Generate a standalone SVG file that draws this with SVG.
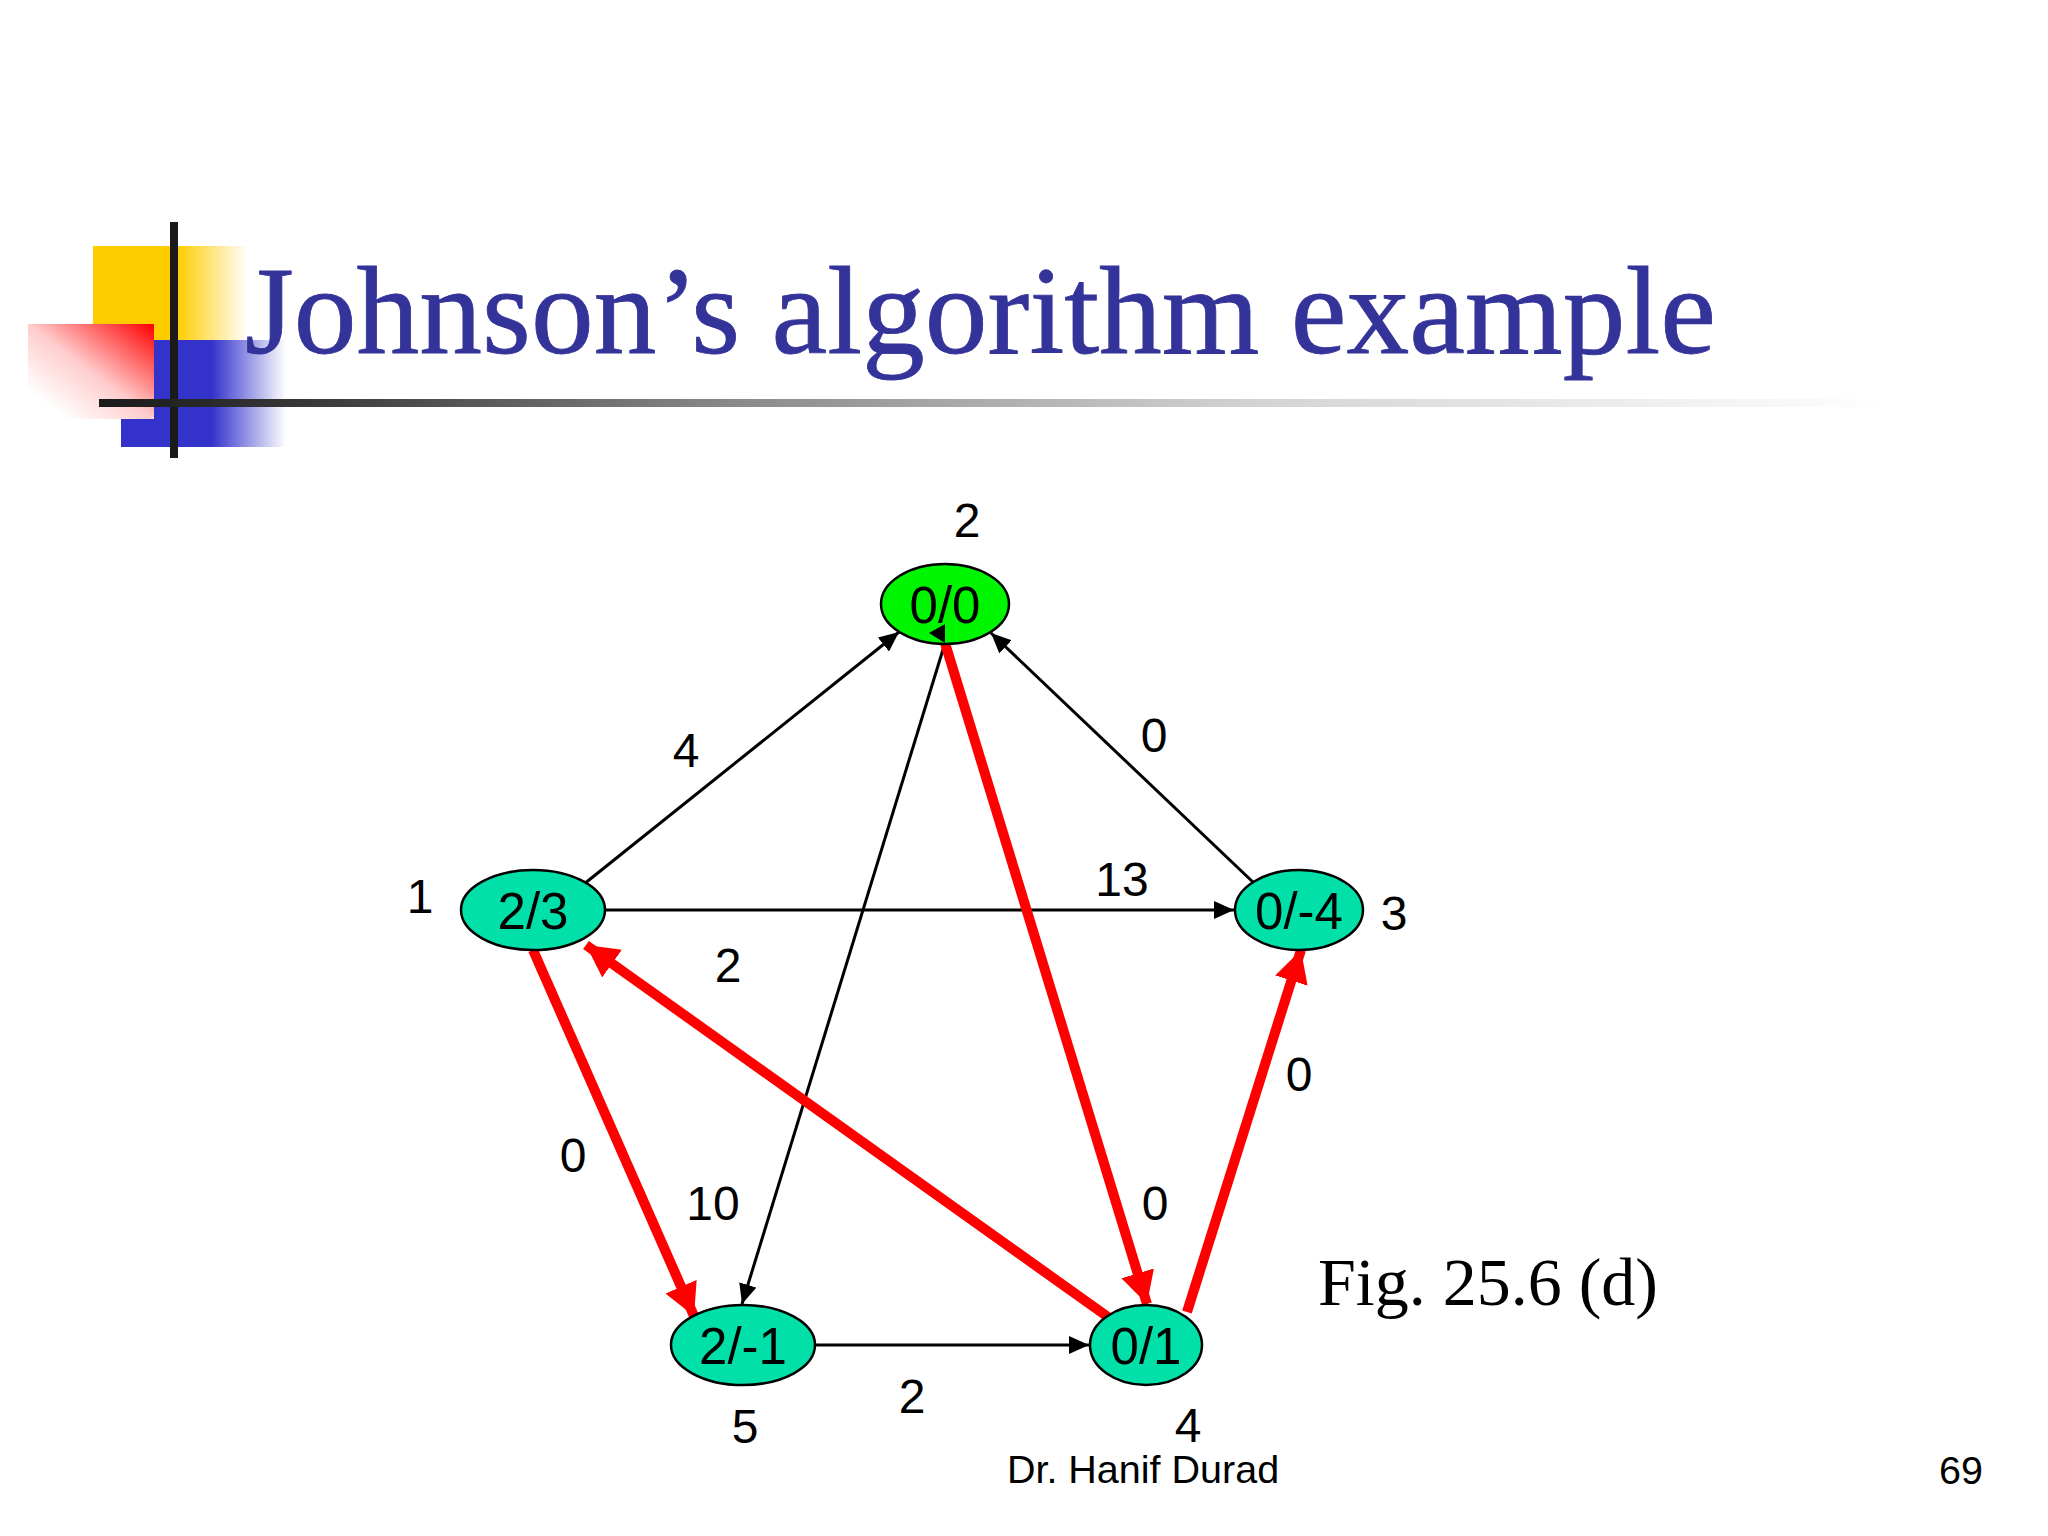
<svg xmlns="http://www.w3.org/2000/svg" width="2048" height="1536" viewBox="0 0 2048 1536">
<style>
.l{font-family:"Liberation Sans",Arial,sans-serif;font-size:48px;fill:#000;text-anchor:middle}
.t{font-size:51px}
.n{fill:#00e0a8;stroke:#000;stroke-width:2.5}
.b{stroke:#000;stroke-width:3;fill:none;marker-end:url(#ab)}
.r{stroke:#f00;stroke-width:10;fill:none;marker-end:url(#ar)}
</style>
<defs>
<linearGradient id="gy" x1="0" x2="1" y1="0" y2="0"><stop offset="0" stop-color="#fc0"/><stop offset="0.54" stop-color="#fc0"/><stop offset="1" stop-color="#fc0" stop-opacity="0"/></linearGradient>
<linearGradient id="gb" x1="0" x2="1" y1="0" y2="0"><stop offset="0" stop-color="#33c"/><stop offset="0.55" stop-color="#33c"/><stop offset="1" stop-color="#33c" stop-opacity="0"/></linearGradient>
<linearGradient id="gr" x1="1" y1="0" x2="0" y2="1"><stop offset="0" stop-color="#f00"/><stop offset="0.5" stop-color="#fcc"/><stop offset="0.85" stop-color="#fff"/></linearGradient>
<linearGradient id="gk" x1="0" x2="1" y1="0" y2="0"><stop offset="0" stop-color="#1a1a1a"/><stop offset="0.1" stop-color="#333"/><stop offset="0.35" stop-color="#888"/><stop offset="0.65" stop-color="#d4d4d4"/><stop offset="1" stop-color="#fff"/></linearGradient>
<marker id="ab" markerUnits="userSpaceOnUse" markerWidth="20" markerHeight="18" refX="20" refY="9" orient="auto"><path d="M0 0L20 9L0 18z" fill="#000"/></marker>
<marker id="ar" markerUnits="userSpaceOnUse" markerWidth="32" markerHeight="34" refX="32" refY="17" orient="auto"><path d="M0 0L32 17L0 34z" fill="#f00"/></marker>
</defs>
<g id="decoration">
<rect x="93" y="246" width="155" height="94" fill="url(#gy)"/>
<rect x="121" y="340" width="165" height="107" fill="url(#gb)"/>
<rect x="28" y="324" width="126" height="95" fill="url(#gr)"/>
<rect x="170" y="222" width="8" height="236" fill="#1a1a1a"/>
<rect x="99" y="399" width="1790" height="8" fill="url(#gk)"/>
</g>
<text id="title" x="245" y="353" font-family="Liberation Serif,Times New Roman,serif" font-size="125.5" fill="#333399" stroke="#333399" stroke-width="0.8">Johnson’s algorithm example</text>
<g id="connectors">
<path class="b" d="M584 884L899 632"/>
<path class="b" d="M1255 884L991 633"/>
<path class="b" d="M606 910H1234"/>
<path class="b" d="M945 643L742 1304"/>
<path class="b" d="M816 1345H1089"/>
<path class="r" d="M533 950L694 1316"/>
<path class="r" d="M1108 1317L586 945"/>
<path class="r" d="M945 643L1147 1304"/>
<path class="r" d="M1187 1312L1301 950"/>
</g>
<g id="n1"><ellipse class="n" cx="533" cy="910" rx="72" ry="40"/><text class="l t" x="533" y="929">2/3</text></g>
<g id="n2"><ellipse class="n" cx="945" cy="604" rx="64" ry="40" style="fill:#00f500"/><text class="l t" x="945" y="623">0/0</text><path d="M929 633L945 624V643z" fill="#000"/></g>
<g id="n3"><ellipse class="n" cx="1299" cy="910" rx="64" ry="40"/><text class="l t" x="1299" y="929">0/-4</text></g>
<g id="n4"><ellipse class="n" cx="1146" cy="1345" rx="56" ry="40"/><text class="l t" x="1146" y="1364">0/1</text></g>
<g id="n5"><ellipse class="n" cx="743" cy="1345" rx="72" ry="40"/><text class="l t" x="743" y="1364">2/-1</text></g>
<g id="labels">
<text class="l" x="420" y="913">1</text>
<text class="l" x="967" y="537">2</text>
<text class="l" x="1394" y="930">3</text>
<text class="l" x="1188" y="1442">4</text>
<text class="l" x="745" y="1443">5</text>
<text class="l" x="686" y="767">4</text>
<text class="l" x="1154" y="752">0</text>
<text class="l" x="1122" y="896">13</text>
<text class="l" x="728" y="982">2</text>
<text class="l" x="1299" y="1091">0</text>
<text class="l" x="573" y="1172">0</text>
<text class="l" x="713" y="1220">10</text>
<text class="l" x="1155" y="1220">0</text>
<text class="l" x="912" y="1413">2</text>
<text x="1318" y="1305" font-family="Liberation Serif,Times New Roman,serif" font-size="68" fill="#000">Fig. 25.6 (d)</text>
<text x="1143" y="1483" font-family="Liberation Sans,Arial,sans-serif" font-size="39.5" text-anchor="middle">Dr. Hanif Durad</text>
<text x="1983" y="1484" font-family="Liberation Sans,Arial,sans-serif" font-size="39.5" text-anchor="end">69</text>
</g>
</svg>
